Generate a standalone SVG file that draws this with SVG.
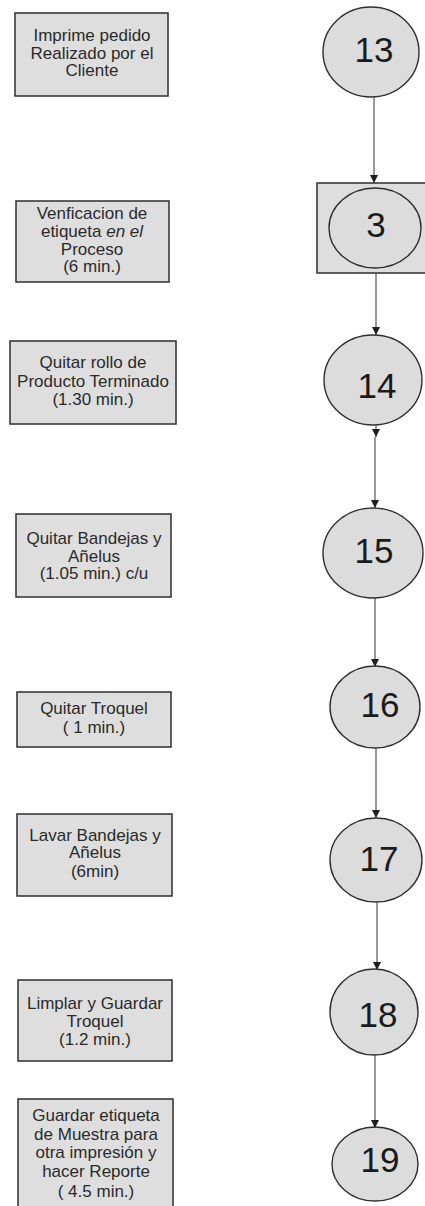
<svg xmlns="http://www.w3.org/2000/svg" width="425" height="1206" viewBox="0 0 425 1206">
  <style>
    .box { fill: #dedede; stroke: #2e2e2e; stroke-width: 1.5; }
    .node { fill: #dcdcdc; stroke: #2e2e2e; stroke-width: 1.4; }
    .lbl { font-family: "Liberation Sans", Arial, sans-serif; font-size: 17px; fill: #2a2a2a; text-anchor: middle; }
    .num { font-family: "Liberation Sans", Arial, sans-serif; font-size: 35px; fill: #1a1a1a; text-anchor: middle; }
    .conn { stroke: #555; stroke-width: 1.2; fill: none; }
    .head { fill: #1e1e1e; }
  </style>
  <defs>
    <marker id="arrow" viewBox="0 0 10 10" refX="10" refY="5" markerWidth="8" markerHeight="9" markerUnits="userSpaceOnUse" orient="auto">
      <path class="head" d="M0,0 L10,5 L0,10 z"/>
    </marker>
  </defs>

  <rect width="425" height="1206" fill="#ffffff"/>

  <!-- activity descriptions -->
  <g id="desc-13">
    <rect class="box" x="15" y="13" width="153" height="83"/>
    <text class="lbl" x="92" y="41">Imprime pedido</text>
    <text class="lbl" x="92" y="58.5">Realizado por el</text>
    <text class="lbl" x="92" y="76">Cliente</text>
  </g>
  <g id="desc-3">
    <rect class="box" x="16" y="201" width="153" height="81"/>
    <text class="lbl" x="92" y="219">Venficacion de</text>
    <text class="lbl" x="92" y="237">etiqueta <tspan font-style="italic">en el</tspan></text>
    <text class="lbl" x="92" y="255">Proceso</text>
    <text class="lbl" x="92" y="272">(6 min.)</text>
  </g>
  <g id="desc-14">
    <rect class="box" x="10" y="341" width="166" height="83"/>
    <text class="lbl" x="93" y="368">Quitar rollo de</text>
    <text class="lbl" x="93" y="387">Producto Terminado</text>
    <text class="lbl" x="93" y="405">(1.30 min.)</text>
  </g>
  <g id="desc-15">
    <rect class="box" x="16" y="514" width="155" height="83"/>
    <text class="lbl" x="94" y="544">Quitar Bandejas y</text>
    <text class="lbl" x="94" y="562">Añelus</text>
    <text class="lbl" x="94" y="579">(1.05 min.) c/u</text>
  </g>
  <g id="desc-16">
    <rect class="box" x="17" y="692" width="154" height="55"/>
    <text class="lbl" x="94" y="714">Quitar Troquel</text>
    <text class="lbl" x="94" y="733">( 1 min.)</text>
  </g>
  <g id="desc-17">
    <rect class="box" x="17" y="814" width="155" height="82"/>
    <text class="lbl" x="95" y="841">Lavar Bandejas y</text>
    <text class="lbl" x="95" y="858">Añelus</text>
    <text class="lbl" x="95" y="877">(6min)</text>
  </g>
  <g id="desc-18">
    <rect class="box" x="18" y="980" width="154" height="81"/>
    <text class="lbl" x="95" y="1009">Limplar y Guardar</text>
    <text class="lbl" x="95" y="1027">Troquel</text>
    <text class="lbl" x="95" y="1045">(1.2 min.)</text>
  </g>
  <g id="desc-19">
    <rect class="box" x="18" y="1099" width="155" height="120"/>
    <text class="lbl" x="96" y="1121">Guardar etiqueta</text>
    <text class="lbl" x="96" y="1140">de Muestra para</text>
    <text class="lbl" x="96" y="1158">otra impresión y</text>
    <text class="lbl" x="96" y="1177">hacer Reporte</text>
    <text class="lbl" x="96" y="1197">( 4.5 min.)</text>
  </g>

  <!-- process steps -->
  <g id="step-13">
    <ellipse class="node" cx="371" cy="52" rx="48" ry="45"/>
    <text class="num" x="374" y="62">13</text>
  </g>
  <g id="step-3">
    <rect class="box" x="317" y="183" width="112" height="90"/>
    <ellipse class="node" cx="375" cy="228" rx="46" ry="40"/>
    <text class="num" x="376" y="237">3</text>
  </g>
  <g id="step-14">
    <ellipse class="node" cx="373" cy="380" rx="49" ry="45"/>
    <text class="num" x="377" y="398">14</text>
  </g>
  <g id="step-15">
    <ellipse class="node" cx="373" cy="553" rx="50" ry="45"/>
    <text class="num" x="374" y="563">15</text>
  </g>
  <g id="step-16">
    <ellipse class="node" cx="375" cy="707" rx="45" ry="41"/>
    <text class="num" x="380" y="717">16</text>
  </g>
  <g id="step-17">
    <ellipse class="node" cx="376" cy="860" rx="46" ry="42"/>
    <text class="num" x="379" y="871">17</text>
  </g>
  <g id="step-18">
    <ellipse class="node" cx="374" cy="1012" rx="44" ry="43"/>
    <text class="num" x="378" y="1027">18</text>
  </g>
  <g id="step-19">
    <ellipse class="node" cx="375" cy="1164" rx="43" ry="37"/>
    <text class="num" x="380" y="1172">19</text>
  </g>

  <!-- connectors -->
  <g id="connectors">
    <line class="conn" x1="374" y1="97" x2="374" y2="183" marker-end="url(#arrow)"/>
    <line class="conn" x1="376" y1="273" x2="376" y2="335" marker-end="url(#arrow)"/>
    <line class="conn" x1="376" y1="425" x2="376" y2="437" marker-end="url(#arrow)"/>
    <line class="conn" x1="375" y1="437" x2="375" y2="508" marker-end="url(#arrow)"/>
    <line class="conn" x1="375" y1="598" x2="375" y2="667" marker-end="url(#arrow)"/>
    <line class="conn" x1="376" y1="748" x2="376" y2="818" marker-end="url(#arrow)"/>
    <line class="conn" x1="377" y1="902" x2="377" y2="970" marker-end="url(#arrow)"/>
    <line class="conn" x1="375" y1="1055" x2="375" y2="1128" marker-end="url(#arrow)"/>
  </g>
</svg>
